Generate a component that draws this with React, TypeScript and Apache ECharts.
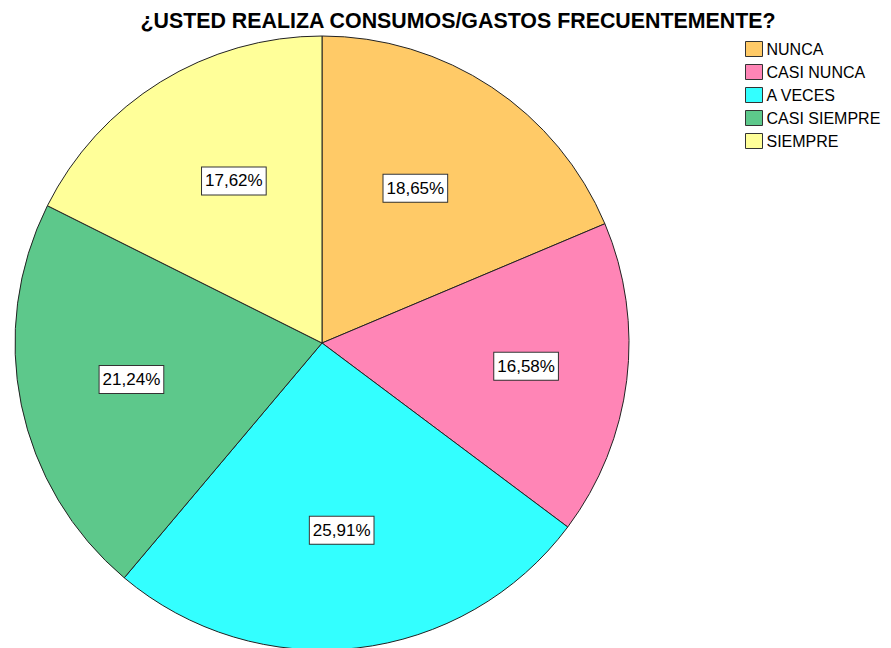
import React, { useEffect, useRef } from "react";
import * as echarts from "echarts";

const categories = ["NUNCA", "CASI NUNCA", "A VECES", "CASI SIEMPRE", "SIEMPRE"];
const values = [18.65, 16.58, 25.91, 21.24, 17.62];
const colors = ["#FFCA67", "#FF85B6", "#33FFFF", "#5DC88B", "#FFFF99"];
const labelNudges = [[-12, 4], [15, 0], [-2, -2], [-4, -2], [12, 0]];
const titleText = "¿USTED REALIZA CONSUMOS/GASTOS FRECUENTEMENTE?";

const fmt = (v: number) => v.toFixed(2).replace(".", ",") + "%";
const FONT = "Liberation Sans, Arial, sans-serif";

export default function App() {
  const ref = useRef<HTMLDivElement>(null);
  useEffect(() => {
    if (!ref.current) return;
    const chart = echarts.init(ref.current, null, { renderer: "svg" });
    const data = categories.map((name, i) => ({
      name,
      value: values[i],
      itemStyle: { color: colors[i] },
    }));
    chart.setOption({
      animation: false,
      backgroundColor: "#ffffff",
      graphic: [
        {
          type: "text",
          x: 458,
          y: 20.5,
          scaleX: 0.93,
          style: {
            text: titleText,
            fontFamily: FONT,
            fontWeight: "bold",
            fontSize: 23,
            fill: "#000",
            textAlign: "center",
            textVerticalAlign: "middle",
          },
        },
      ],
      legend: {
        orient: "vertical",
        left: 745,
        top: 41,
        padding: 0,
        data: categories,
        itemWidth: 17,
        itemHeight: 15,
        itemGap: 7,
        icon: "rect",
        selectedMode: false,
        itemStyle: { borderColor: "#333", borderWidth: 1 },
        textStyle: {
          fontFamily: FONT,
          fontSize: 16,
          lineHeight: 16,
          color: "#000",
          padding: [0, 0, 0, -1],
        },
      },
      series: [
        {
          type: "pie",
          center: [322, 343],
          radius: [0, 307],
          startAngle: 90,
          clockwise: true,
          silent: true,
          data,
          itemStyle: { borderColor: "#222", borderWidth: 1 },
          label: { show: false },
          labelLine: { show: false },
        },
        {
          type: "pie",
          center: [322, 343],
          radius: [0, 375],
          startAngle: 90,
          clockwise: true,
          silent: true,
          data: categories.map((name, i) => ({
            name,
            value: values[i],
            itemStyle: { color: "rgba(0,0,0,0)" },
            label: { offset: labelNudges[i] },
          })),
          itemStyle: { borderWidth: 0 },
          label: {
            show: true,
            position: "inside",
            formatter: (p: any) => fmt(p.value),
            fontFamily: FONT,
            fontSize: 17,
            lineHeight: 18,
            color: "#000",
            backgroundColor: "#fff",
            borderColor: "#333",
            borderWidth: 1,
            padding: [5, 3, 4, 3],
          },
          labelLine: { show: false },
        },
      ],
    });
    return () => chart.dispose();
  }, []);
  return (
    <div
      ref={ref}
      style={{ position: "fixed", left: 0, top: 0, width: 891, height: 648 }}
    />
  );
}
